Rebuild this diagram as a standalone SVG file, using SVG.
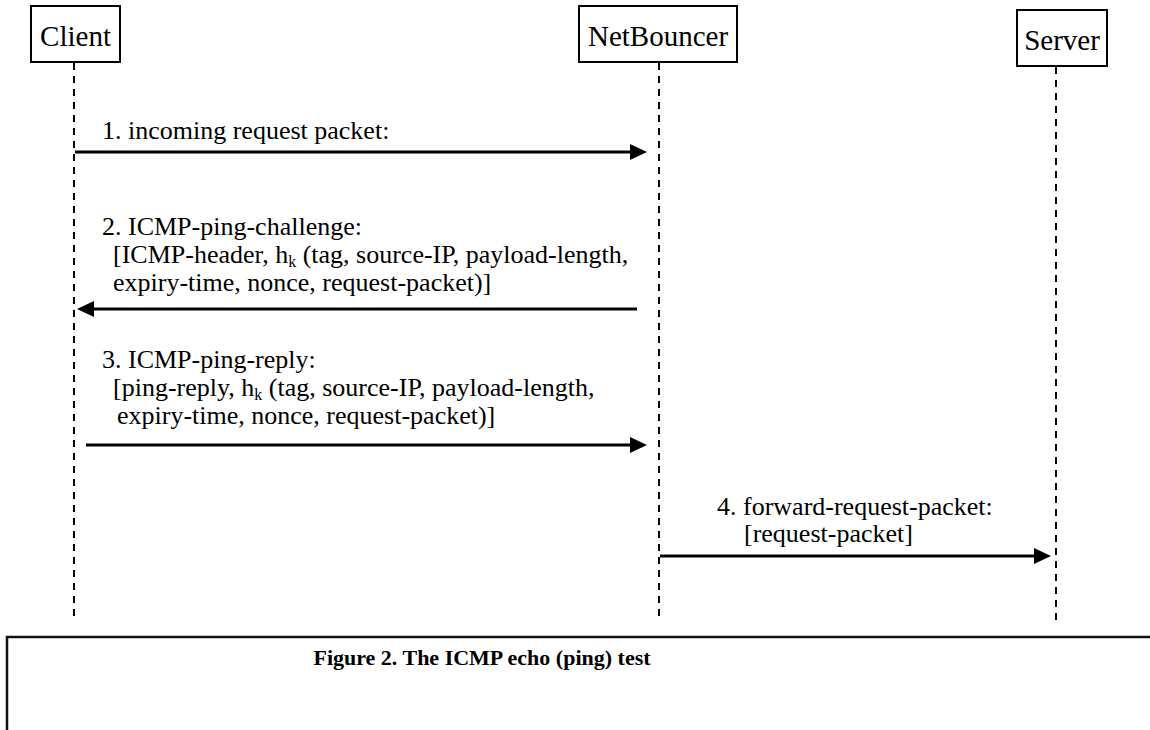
<svg xmlns="http://www.w3.org/2000/svg" width="1150" height="730" viewBox="0 0 1150 730">
<style>
  .box{fill:#fff;stroke:#000;stroke-width:2}
  .name{font-family:"Liberation Serif","Times New Roman",serif;font-size:29px;fill:#000;text-anchor:middle}
  .life{stroke:#000;stroke-width:2;stroke-dasharray:7 6;fill:none}
  .msg{stroke:#000;stroke-width:3;fill:none;marker-end:url(#ah)}
  .lbl{font-family:"Liberation Serif","Times New Roman",serif;font-size:26px;fill:#000}
  .sub{font-size:16px}
  .cap{font-family:"Liberation Serif","Times New Roman",serif;font-size:22px;font-weight:bold;fill:#000}
</style>
<defs>
  <marker id="ah" markerUnits="userSpaceOnUse" markerWidth="20" markerHeight="20" viewBox="0 -10 20 20" refX="1" refY="0" orient="auto">
    <path d="M0,-8 L17,0 L0,8 z" fill="#000"/>
  </marker>
</defs>
<rect width="1150" height="730" fill="#fff"/>
<g id="lifelines">
  <line class="life" x1="74" y1="63" x2="74" y2="622"/>
  <line class="life" x1="659" y1="63" x2="659" y2="622"/>
  <line class="life" x1="1056" y1="67" x2="1056" y2="622"/>
</g>
<g id="client">
  <rect class="box" x="31" y="6" width="89" height="56"/>
  <text class="name" x="75.5" y="46">Client</text>
</g>
<g id="netbouncer">
  <rect class="box" x="579" y="6" width="158" height="56"/>
  <text class="name" x="658" y="46">NetBouncer</text>
</g>
<g id="server">
  <rect class="box" x="1017" y="10" width="90" height="56"/>
  <text class="name" x="1062" y="49.5">Server</text>
</g>
<g id="connectors">
  <line class="msg" x1="75" y1="152" x2="631" y2="152"/>
  <line class="msg" x1="637" y1="309" x2="93" y2="309"/>
  <line class="msg" x1="86" y1="445" x2="631" y2="445"/>
  <line class="msg" x1="660" y1="556" x2="1035" y2="556"/>
</g>
<g id="labels">
  <text class="lbl" x="102" y="139">1. incoming request packet:</text>
  <text class="lbl" x="102" y="235">2. ICMP-ping-challenge:</text>
  <text class="lbl" x="113" y="263">[ICMP-header, h<tspan class="sub" dy="4">k</tspan><tspan dy="-4"> (tag, source-IP, payload-length,</tspan></text>
  <text class="lbl" x="113" y="291">expiry-time, nonce, request-packet)]</text>
  <text class="lbl" x="102" y="368">3. ICMP-ping-reply:</text>
  <text class="lbl" x="113" y="396">[ping-reply, h<tspan class="sub" dy="4">k</tspan><tspan dy="-4"> (tag, source-IP, payload-length,</tspan></text>
  <text class="lbl" x="117" y="424">expiry-time, nonce, request-packet)]</text>
  <text class="lbl" x="717" y="515">4. forward-request-packet:</text>
  <text class="lbl" x="744" y="542">[request-packet]</text>
</g>
<g id="caption">
  <path d="M7,730 V637 H1150" fill="none" stroke="#111" stroke-width="2.5"/>
  <text class="cap" x="482" y="665" text-anchor="middle">Figure 2. The ICMP echo (ping) test</text>
</g>
</svg>
